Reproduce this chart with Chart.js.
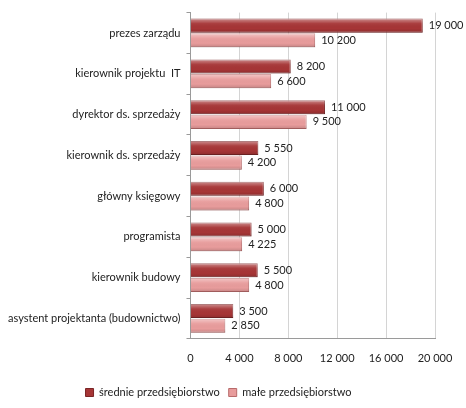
<!DOCTYPE html>
<html>
<head>
<meta charset="utf-8">
<script src="https://cdn.jsdelivr.net/npm/chart.js@4"></script>
<style>
  html, body { margin: 0; padding: 0; background: #fff; }
  #wrap { width: 466px; height: 408px; }
</style>
</head>
<body>
<div id="wrap"><canvas id="chart" width="466" height="408"></canvas></div>
<script>
const CATEGORIES = [
  'prezes zarządu',
  'kierownik projektu  IT',
  'dyrektor ds. sprzedaży',
  'kierownik ds. sprzedaży',
  'główny księgowy',
  'programista',
  'kierownik budowy',
  'asystent projektanta (budownictwo)',
];
const MEDIUM = [19000, 8200, 11000, 5550, 6000, 5000, 5500, 3500];
const SMALL = [10200, 6600, 9500, 4200, 4800, 4225, 4800, 2850];
const SERIES_NAMES = ['średnie przedsiębiorstwo', 'małe przedsiębiorstwo'];
const X_TICKS = [0, 4000, 8000, 12000, 16000, 20000];

const FONT = 'Lato, "Open Sans", sans-serif';

function fmt(v) {
  return String(v).replace(/\B(?=(\d{3})+(?!\d))/g, ' ');
}

// glossy highlight + value labels on each bar
const barDecor = {
  id: 'barDecor',
  afterDatasetsDraw(chart) {
    const ctx = chart.ctx;
    chart.data.datasets.forEach((ds, i) => {
      const meta = chart.getDatasetMeta(i);
      meta.data.forEach((bar, j) => {
        const top = bar.y - bar.height / 2;
        const g = ctx.createLinearGradient(0, top, 0, top + bar.height);
        g.addColorStop(0, 'rgba(255,255,255,0.45)');
        g.addColorStop(0.35, 'rgba(255,255,255,0.05)');
        g.addColorStop(0.7, 'rgba(0,0,0,0)');
        g.addColorStop(1, 'rgba(0,0,0,0.15)');
        ctx.save();
        ctx.fillStyle = g;
        ctx.fillRect(bar.base, top, bar.x - bar.base, bar.height);
        ctx.fillStyle = '#222';
        ctx.font = '11px ' + FONT;
        ctx.textBaseline = 'middle';
        ctx.textAlign = 'left';
        ctx.fillText(fmt(ds.data[j]), bar.x + 6, bar.y);
        ctx.restore();
      });
    });
  },
};

new Chart(document.getElementById('chart'), {
  type: 'bar',
  data: {
    labels: CATEGORIES,
    datasets: [
      {
        label: SERIES_NAMES[0],
        data: MEDIUM,
        backgroundColor: '#a63536',
        borderColor: '#7a2526',
        borderWidth: 1,
        categoryPercentage: 0.72,
        barPercentage: 0.96,
      },
      {
        label: SERIES_NAMES[1],
        data: SMALL,
        backgroundColor: '#e89c9c',
        borderColor: '#b86a6a',
        borderWidth: 1,
        categoryPercentage: 0.72,
        barPercentage: 0.96,
      },
    ],
  },
  options: {
    indexAxis: 'y',
    responsive: false,
    animation: false,
    layout: { padding: { top: 4, right: 31, bottom: 0, left: 2 } },
    plugins: {
      tooltip: { enabled: false },
      legend: {
        position: 'bottom',
        labels: {
          boxWidth: 8,
          boxHeight: 8,
          padding: 9,
          color: '#222',
          font: { family: FONT, size: 11 },
        },
      },
    },
    scales: {
      x: {
        min: 0,
        max: 20000,
        afterBuildTicks: (axis) => { axis.ticks = X_TICKS.map((v) => ({ value: v })); },
        grid: { color: '#d4d4d4', drawTicks: false },
        border: { color: '#9a9a9a' },
        ticks: {
          padding: 13,
          color: '#222',
          font: { family: FONT, size: 11 },
          callback: (v) => fmt(v),
        },
      },
      y: {
        grid: { offset: true, drawOnChartArea: false, tickLength: 4, color: '#9a9a9a' },
        border: { color: '#9a9a9a' },
        ticks: {
          padding: 6,
          color: '#222',
          font: { family: FONT, size: 11 },
        },
      },
    },
  },
  plugins: [barDecor],
});
</script>
</body>
</html>
